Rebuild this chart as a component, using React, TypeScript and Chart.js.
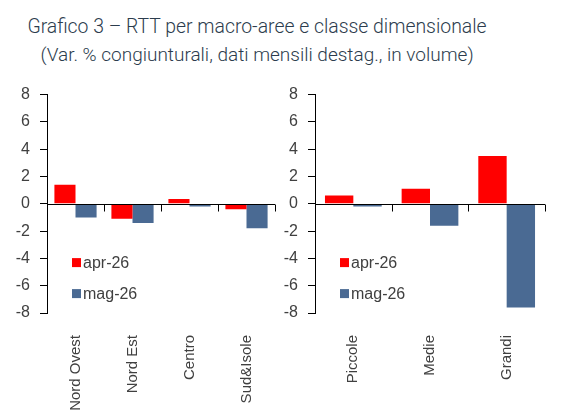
import React, { useEffect, useRef } from "react";
import { Chart, registerables } from "chart.js";

Chart.register(...registerables);

// Series and categories
const seriesNames = ["apr-26", "mag-26"];
const seriesColors = ["#ff0000", "#4a6a93"];

const areaCategories = ["Nord Ovest", "Nord Est", "Centro", "Sud&Isole"];
const areaApr = [1.4, -1.1, 0.35, -0.4];
const areaMag = [-1.0, -1.4, -0.2, -1.8];

const sizeCategories = ["Piccole", "Medie", "Grandi"];
const sizeApr = [0.6, 1.1, 3.5];
const sizeMag = [-0.2, -1.6, -7.6];

const yMin = -8;
const yMax = 8;
const yStep = 2;

const AXIS_FONT = "'Liberation Sans', Arial, sans-serif";
const TEXT_COLOR = "#404040";

// Zero line with category separators, plus an in-plot legend
const zeroLinePlugin = {
  id: "zeroLine",
  afterDatasetsDraw(chart: any) {
    const { ctx, chartArea } = chart;
    const y0 = Math.round(chart.scales.y.getPixelForValue(0)) + 0.5;
    const n = chart.data.labels.length;
    const w = (chartArea.right - chartArea.left) / n;
    ctx.save();
    ctx.strokeStyle = "#000";
    ctx.lineWidth = 1;
    ctx.beginPath();
    ctx.moveTo(chartArea.left, y0);
    ctx.lineTo(chartArea.right, y0);
    for (let i = 1; i <= n; i++) {
      const x = Math.round(chartArea.left + i * w) + 0.5;
      ctx.moveTo(x, y0);
      ctx.lineTo(x, y0 + 7);
    }
    ctx.stroke();
    ctx.restore();
  },
};

const innerLegendPlugin = {
  id: "innerLegend",
  afterDraw(chart: any) {
    const { ctx, chartArea } = chart;
    const x = chartArea.left + 25;
    const rows = [chartArea.top + 168, chartArea.top + 199];
    ctx.save();
    ctx.font = `16px ${AXIS_FONT}`;
    ctx.textBaseline = "middle";
    ctx.textAlign = "left";
    chart.data.datasets.forEach((ds: any, i: number) => {
      ctx.fillStyle = ds.backgroundColor;
      ctx.fillRect(x, rows[i] - 4.5, 9, 9);
      ctx.fillStyle = TEXT_COLOR;
      ctx.fillText(ds.label, x + 11, rows[i] + 1);
    });
    ctx.restore();
  },
};

type PanelProps = {
  categories: string[];
  apr: number[];
  mag: number[];
  left: number;
  width: number;
  axisWidth: number;
  padRight: number;
};

const CANVAS_TOP = 75;
const CANVAS_HEIGHT = 343;

function Panel({ categories, apr, mag, left, width, axisWidth, padRight }: PanelProps) {
  const ref = useRef<HTMLCanvasElement | null>(null);

  useEffect(() => {
    if (!ref.current) return;
    const chart = new Chart(ref.current, {
      type: "bar",
      data: {
        labels: categories,
        datasets: [
          { label: seriesNames[0], data: apr, backgroundColor: seriesColors[0] },
          { label: seriesNames[1], data: mag, backgroundColor: seriesColors[1] },
        ],
      },
      options: {
        animation: false,
        responsive: false,
        maintainAspectRatio: false,
        layout: { padding: { top: 9, right: padRight, bottom: 0, left: 0 } },
        datasets: { bar: { categoryPercentage: 0.74, barPercentage: 1 } },
        plugins: { legend: { display: false }, tooltip: { enabled: false } },
        scales: {
          x: {
            type: "category",
            position: "bottom",
            grid: { display: false },
            border: { display: false },
            ticks: {
              minRotation: 90,
              maxRotation: 90,
              autoSkip: false,
              padding: 14,
              color: TEXT_COLOR,
              font: { family: AXIS_FONT, size: 15 },
            },
            afterFit(scale: any) {
              scale.height = 105;
            },
          },
          y: {
            min: yMin,
            max: yMax,
            grid: {
              drawOnChartArea: false,
              drawTicks: true,
              tickLength: 7,
              color: "#000",
            },
            border: { display: true, color: "#000" },
            ticks: {
              stepSize: yStep,
              padding: 10,
              color: TEXT_COLOR,
              font: { family: AXIS_FONT, size: 16 },
            },
            afterFit(scale: any) {
              scale.width = axisWidth;
            },
          },
        },
      },
      plugins: [zeroLinePlugin, innerLegendPlugin],
    });
    return () => chart.destroy();
  }, []);

  return (
    <canvas
      ref={ref}
      width={width}
      height={CANVAS_HEIGHT}
      style={{ position: "absolute", left, top: CANVAS_TOP, width, height: CANVAS_HEIGHT }}
    />
  );
}

export default function App() {
  const titleStyle: React.CSSProperties = {
    position: "absolute",
    left: 0,
    width: 514,
    textAlign: "center",
    fontFamily: "Roboto, sans-serif",
    fontWeight: 300,
    lineHeight: "24px",
    color: "#2c3c4d",
    whiteSpace: "nowrap",
  };
  return (
    <div
      style={{
        position: "fixed",
        left: 0,
        top: 0,
        width: 567,
        height: 418,
        background: "#fff",
        overflow: "hidden",
      }}
    >
      <div style={{ ...titleStyle, top: 15, fontSize: 19.4 }}>
        Grafico 3 – RTT per macro-aree e classe dimensionale
      </div>
      <div style={{ ...titleStyle, top: 43, fontSize: 19 }}>
        (Var. % congiunturali, dati mensili destag., in volume)
      </div>
      <Panel
        categories={areaCategories}
        apr={areaApr}
        mag={areaMag}
        left={0}
        width={290}
        axisWidth={47}
        padRight={15}
      />
      <Panel
        categories={sizeCategories}
        apr={sizeApr}
        mag={sizeMag}
        left={270}
        width={297}
        axisWidth={45}
        padRight={22}
      />
    </div>
  );
}
